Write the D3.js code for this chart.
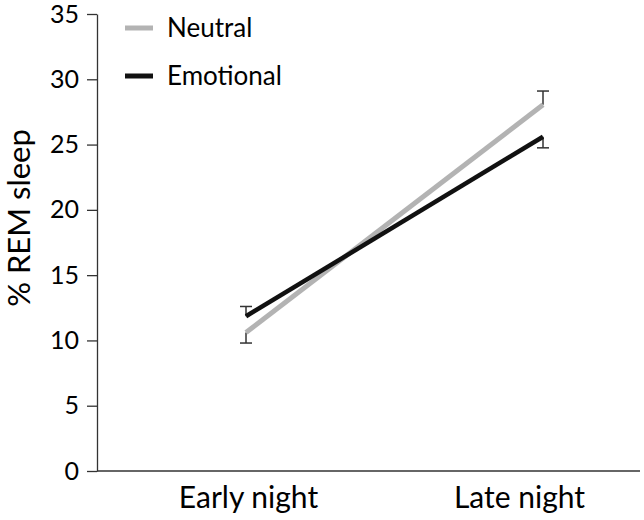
<!DOCTYPE html>
<html><head><meta charset="utf-8">
<script src="https://cdn.jsdelivr.net/npm/d3@7/dist/d3.min.js"></script>
<style>body{margin:0;background:#fff}svg{display:block}text{font-family:Lato,"Open Sans",sans-serif;fill:#000}</style>
</head><body><svg id="c" width="644" height="520"></svg>
<script>
const categories = ["Early night", "Late night"];
const neutral = [10.6, 28.05];
const neutralErr = [-0.8, 1.05];
const emotional = [11.85, 25.6];
const emotionalErr = [0.75, -0.85];
const yTicks = [0, 5, 10, 15, 20, 25, 30, 35];
const seriesNames = ["Neutral", "Emotional"];
const seriesColors = ["#b3b3b3", "#111111"];

const svg = d3.select("#c");
const x = d3.scalePoint().domain(categories).range([246, 543]);
const y = d3.scaleLinear().domain([0, 35]).range([471, 14]);
const x0 = 97, x1 = 640;

// y axis
const ya = svg.append("g").attr("transform", `translate(${x0},0)`)
  .call(d3.axisLeft(y).tickValues(yTicks).tickSize(10).tickPadding(8).tickSizeOuter(0));
ya.select(".domain").attr("stroke", "#333").attr("stroke-width", 1.3);
ya.selectAll(".tick line").attr("stroke", "#333").attr("stroke-width", 1.3);
ya.selectAll(".tick text").attr("font-size", 25).attr("font-family", "Lato");

// x axis line
svg.append("line").attr("x1", x0).attr("x2", x1).attr("y1", y(0)).attr("y2", y(0))
  .attr("stroke", "#333").attr("stroke-width", 1.3);
const labelShift = [2.5, -23.5];
svg.selectAll(".xl").data(categories).enter().append("text")
  .attr("x", (d, i) => x(d) + labelShift[i]).attr("y", 508)
  .attr("text-anchor", "middle").attr("font-size", 30).text(d => d);

// y title
svg.append("text").attr("transform", "translate(30,218) rotate(-90)")
  .attr("text-anchor", "middle").attr("font-size", 31).text("% REM sleep");

const series = [
  {vals: neutral, err: neutralErr, color: seriesColors[0], w: 5},
  {vals: emotional, err: emotionalErr, color: seriesColors[1], w: 4.5}
];
// error bars
series.forEach(s => {
  categories.forEach((c, i) => {
    const cx = x(c), ya0 = y(s.vals[i]), ya1 = y(s.vals[i] + s.err[i]);
    svg.append("line").attr("x1", cx).attr("x2", cx).attr("y1", ya0).attr("y2", ya1)
      .attr("stroke", "#333").attr("stroke-width", 1.5);
    svg.append("line").attr("x1", cx - 6).attr("x2", cx + 6).attr("y1", ya1).attr("y2", ya1)
      .attr("stroke", "#333").attr("stroke-width", 1.5);
  });
});
const line = d3.line().x((d, i) => x(categories[i])).y(d => y(d));
series.forEach(s => {
  svg.append("path").attr("d", line(s.vals)).attr("fill", "none")
    .attr("stroke", s.color).attr("stroke-width", s.w);
});

// legend
seriesNames.forEach((n, i) => {
  const ly = 28 + i * 48;
  svg.append("line").attr("x1", 125).attr("x2", 153).attr("y1", ly).attr("y2", ly)
    .attr("stroke", seriesColors[i]).attr("stroke-width", 5);
  svg.append("text").attr("x", 167).attr("y", ly + 9).attr("font-size", 26).text(n);
});
</script></body></html>
